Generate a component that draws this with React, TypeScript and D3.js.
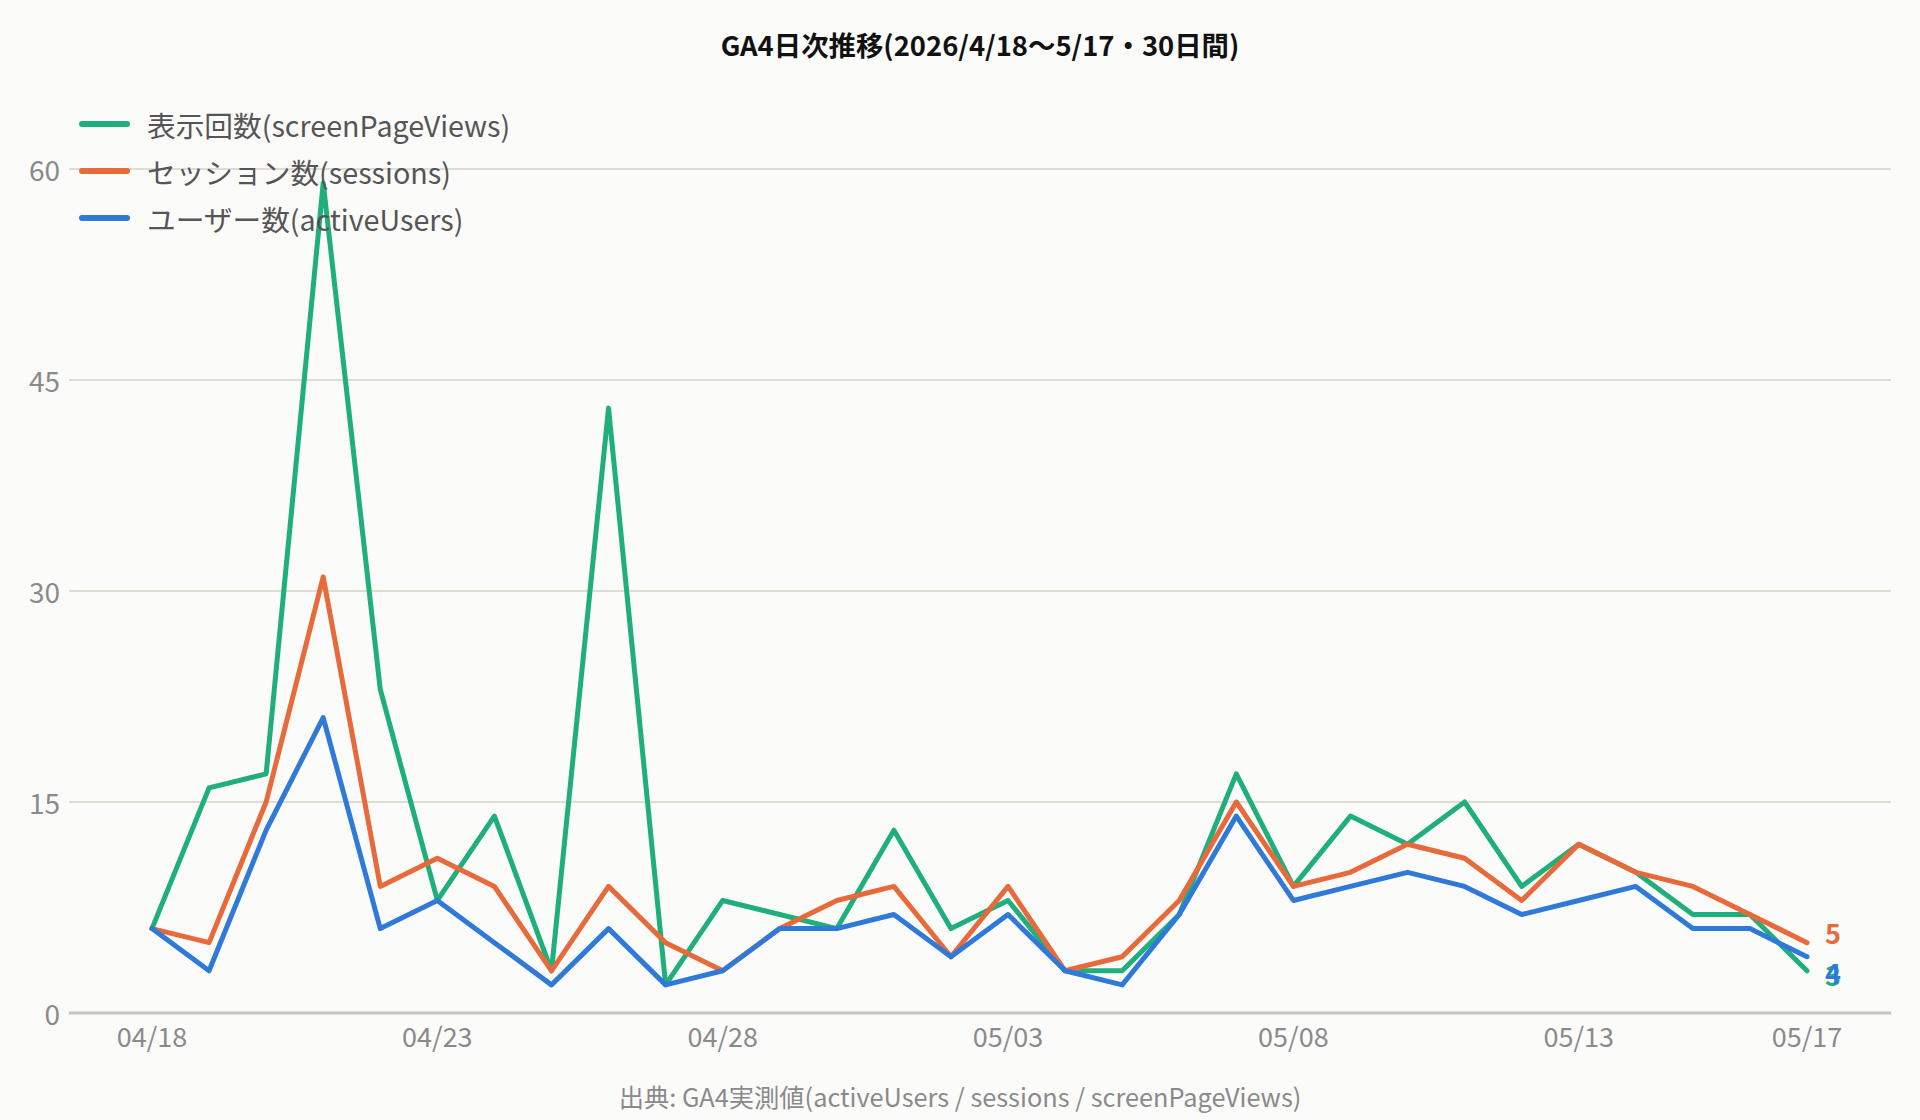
import React from 'react';
import * as d3 from 'd3';

// GA4 daily values, 2026/04/18 - 05/17
const dates = [
  '04/18', '04/19', '04/20', '04/21', '04/22', '04/23', '04/24', '04/25', '04/26', '04/27',
  '04/28', '04/29', '04/30', '05/01', '05/02', '05/03', '05/04', '05/05', '05/06', '05/07',
  '05/08', '05/09', '05/10', '05/11', '05/12', '05/13', '05/14', '05/15', '05/16', '05/17',
];
const pageViews = [6, 16, 17, 59, 23, 8, 14, 3, 43, 2, 8, 7, 6, 13, 6, 8, 3, 3, 7, 17, 9, 14, 12, 15, 9, 12, 10, 7, 7, 3];
const sessions = [6, 5, 15, 31, 9, 11, 9, 3, 9, 5, 3, 6, 8, 9, 4, 9, 3, 4, 8, 15, 9, 10, 12, 11, 8, 12, 10, 9, 7, 5];
const users = [6, 3, 13, 21, 6, 8, 5, 2, 6, 2, 3, 6, 6, 7, 4, 7, 3, 2, 7, 14, 8, 9, 10, 9, 7, 8, 9, 6, 6, 4];

const yTicks = [0, 15, 30, 45, 60];
const xTickLabels = ['04/18', '04/23', '04/28', '05/03', '05/08', '05/13', '05/17'];

const series = [
  { name: '表示回数(screenPageViews)', values: pageViews, color: '#1faf7b' },
  { name: 'セッション数(sessions)', values: sessions, color: '#e8693a' },
  { name: 'ユーザー数(activeUsers)', values: users, color: '#2f79d8' },
];

const W = 1920;
const H = 1120;
const FONT = "'Noto Sans CJK JP', 'Noto Sans', sans-serif";

const App: React.FC = () => {
  const x = d3.scaleLinear().domain([0, dates.length - 1]).range([152, 1807]);
  const y = d3.scaleLinear().domain([0, 60]).range([1013, 169]);
  const gridLeft = 69;
  const gridRight = 1891;

  const line = d3.line<number>()
    .x((_, i) => x(i))
    .y(d => y(d));

  // end labels: top one nudged up, the rest kept clear of it
  const last = dates.length - 1;
  const ends = series
    .map(s => ({ color: s.color, v: s.values[last], y: y(s.values[last]) }))
    .sort((a, b) => a.y - b.y);
  const top = ends[0].y - 10;
  const endLabels = series.map(s => {
    const yy = y(s.values[last]);
    const ly = yy === ends[0].y ? top : Math.max(yy + 4, top + 40);
    return { color: s.color, v: s.values[last], y: ly };
  });

  return (
    <div style={{ position: 'fixed', left: 0, top: 0, width: W, height: H, background: '#fbfbfa' }}>
      <svg width={W} height={H} style={{ display: 'block', fontFamily: FONT }}>
        <rect width={W} height={H} fill="#fbfbfa" />

        <text x={(gridLeft + gridRight) / 2} y={44} textAnchor="middle" dominantBaseline="central"
          fontSize={27.4} fontWeight={700} fill="#111">
          GA4日次推移(2026/4/18〜5/17・30日間)
        </text>

        {/* grid + y labels */}
        {yTicks.map(t => (
          <g key={t}>
            {t > 0 && (
              <line x1={gridLeft} x2={gridRight} y1={y(t)} y2={y(t)} stroke="#dedcd4" strokeWidth={2} />
            )}
            <text x={60} y={y(t)} textAnchor="end" dominantBaseline="central" fontSize={28} fill="#8a8a8a">
              {t}
            </text>
          </g>
        ))}
        <line x1={gridLeft} x2={gridRight} y1={y(0)} y2={y(0)} stroke="#c6c4bb" strokeWidth={3} />

        {/* x labels */}
        {xTickLabels.map(lbl => (
          <text key={lbl} x={x(dates.indexOf(lbl))} y={1035} textAnchor="middle" dominantBaseline="central"
            fontSize={27} fill="#8a8a8a">
            {lbl}
          </text>
        ))}

        {/* lines */}
        {series.map(s => (
          <path key={s.name} d={line(s.values) || ''} fill="none" stroke={s.color} strokeWidth={5}
            strokeLinejoin="round" strokeLinecap="round" />
        ))}

        {endLabels.map(l => (
          <text key={l.color} x={x(last) + 18} y={l.y} dominantBaseline="central" fontSize={27}
            fontWeight={700} fill={l.color}>
            {l.v}
          </text>
        ))}

        {/* legend */}
        {series.map((s, i) => (
          <g key={s.name} transform={`translate(0,${124 + i * 47})`}>
            <line x1={82} x2={127} y1={0} y2={0} stroke={s.color} strokeWidth={6} strokeLinecap="round" />
            <text x={147} y={0} dominantBaseline="central" fontSize={28.7} fill="#555">
              {s.name}
            </text>
          </g>
        ))}

        <text x={W / 2} y={1096} textAnchor="middle" dominantBaseline="central" fontSize={25.3} fill="#8a8a8a">
          出典: GA4実測値(activeUsers / sessions / screenPageViews)
        </text>
      </svg>
    </div>
  );
};

export default App;
